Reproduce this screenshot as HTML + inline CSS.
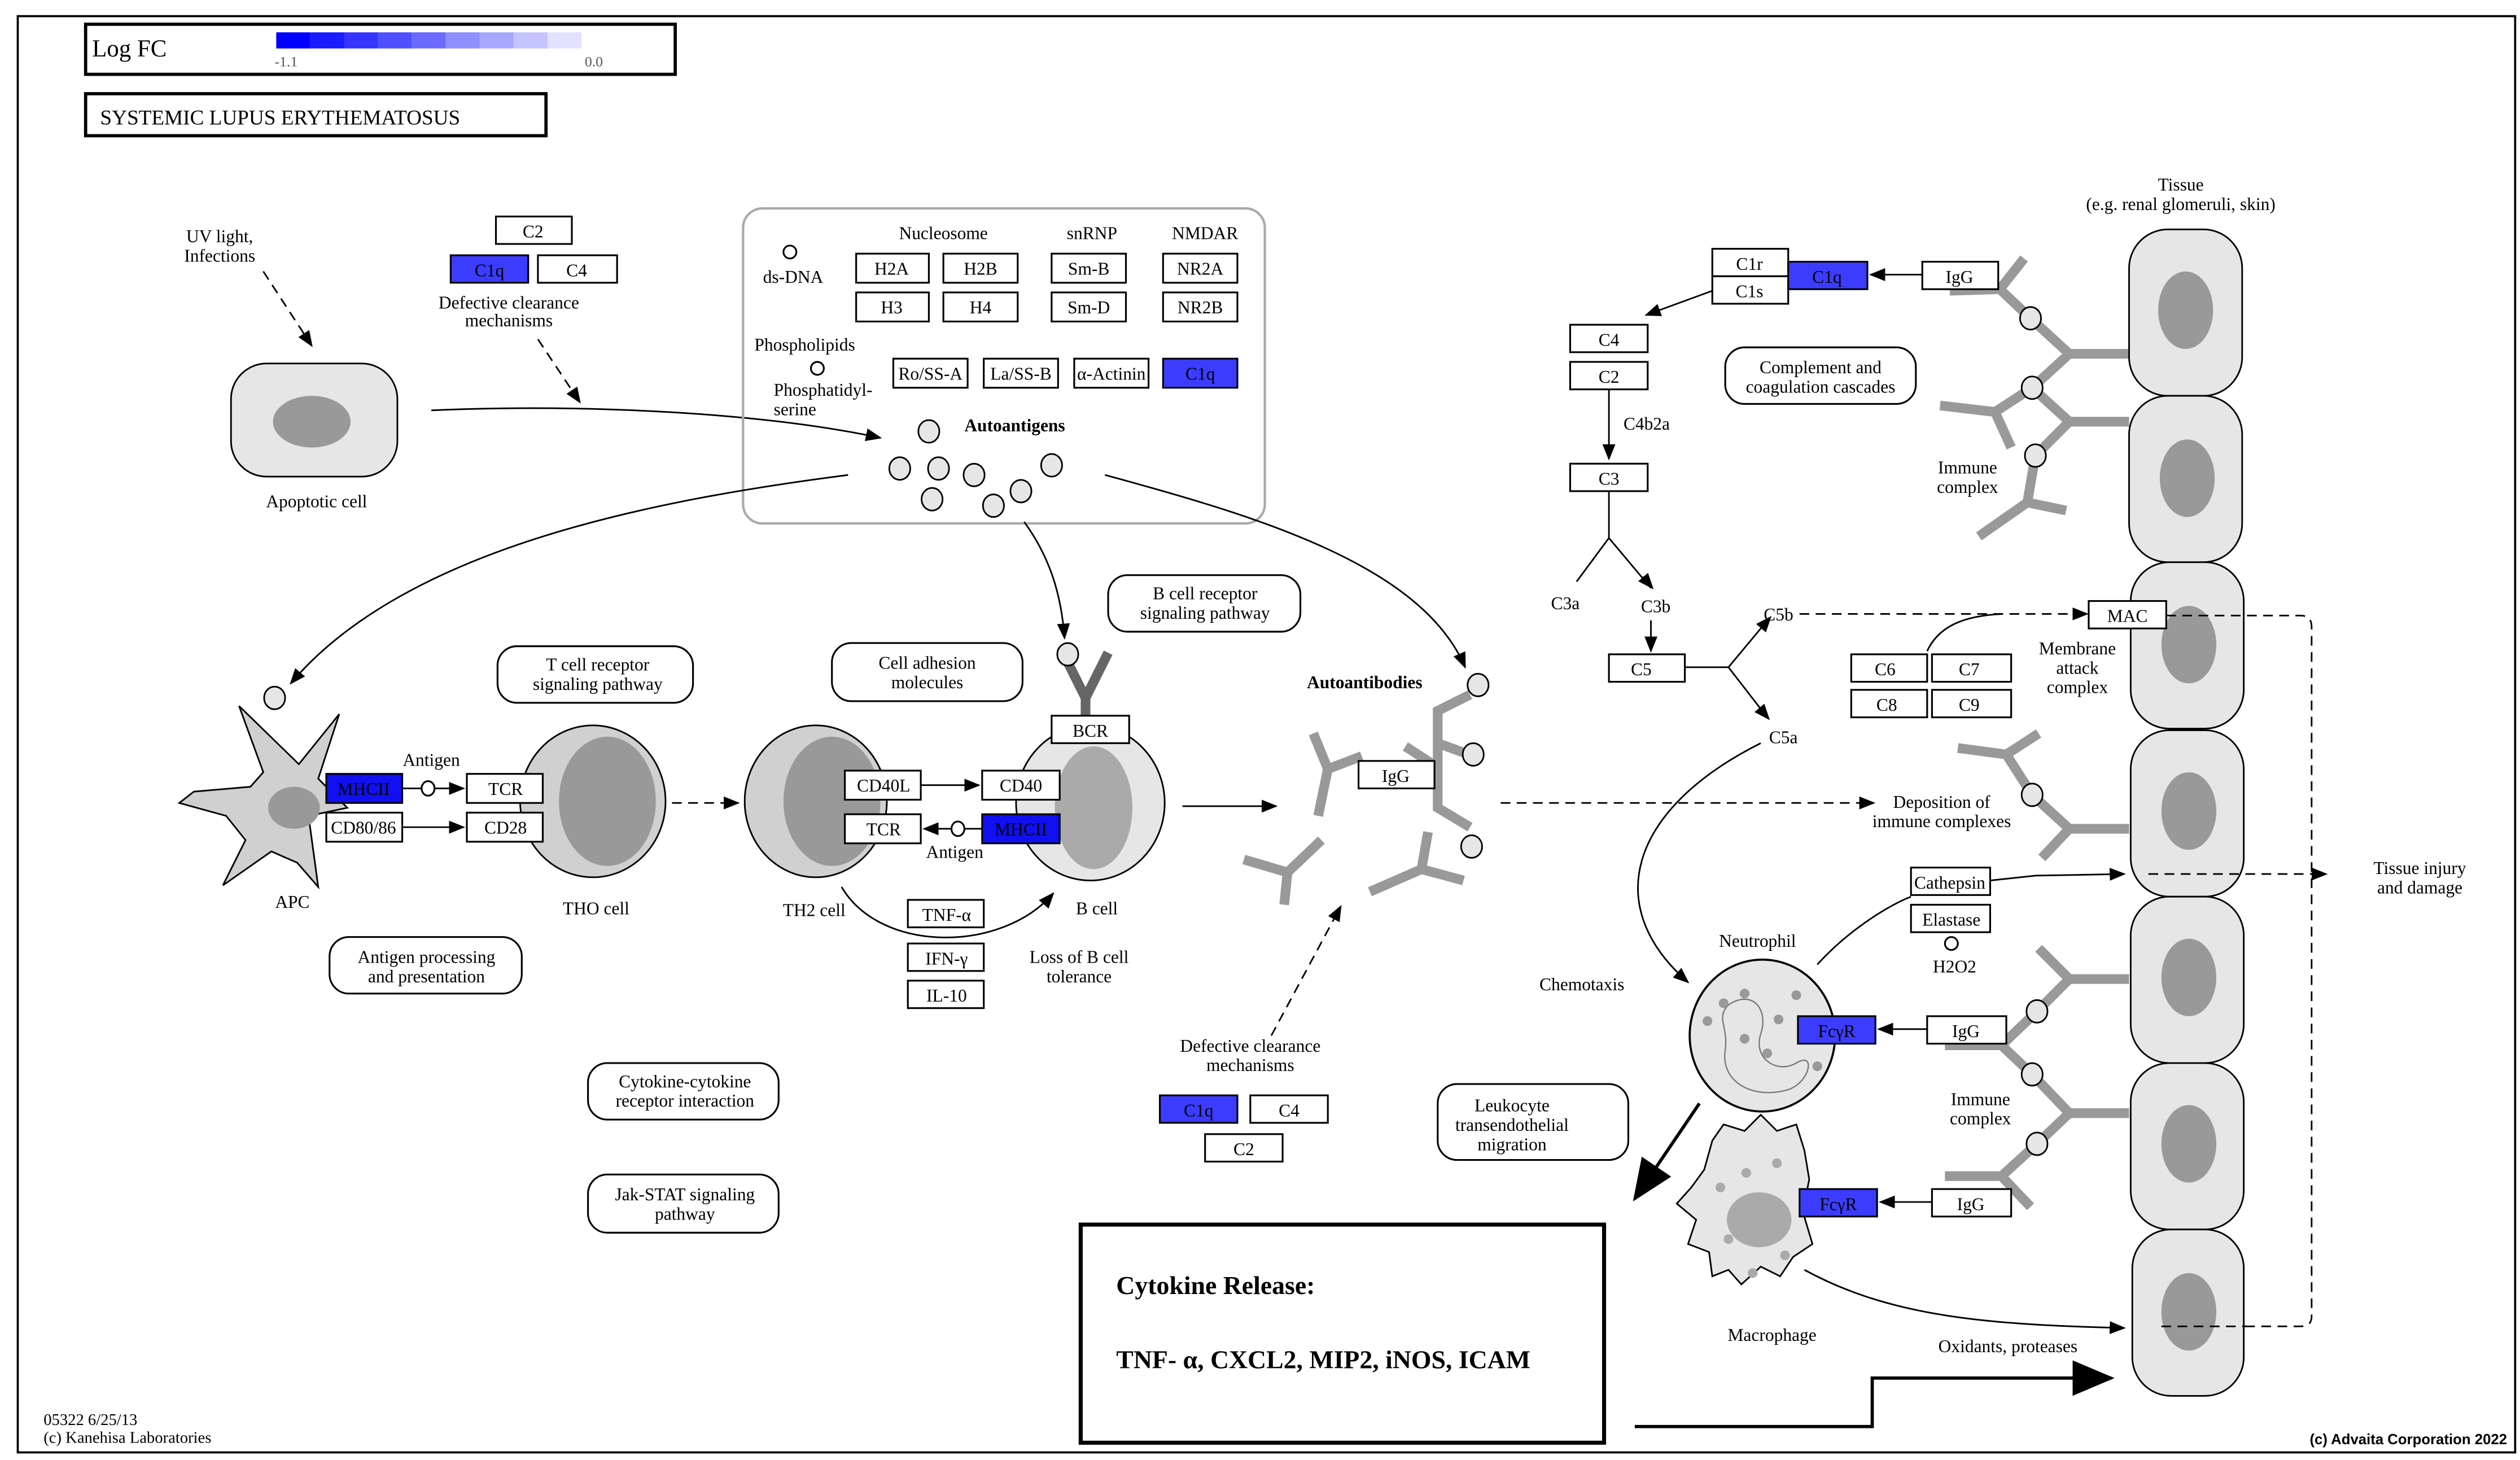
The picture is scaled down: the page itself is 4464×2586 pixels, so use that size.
<!DOCTYPE html>
<html><head><meta charset="utf-8"><style>
html,body{margin:0;padding:0;background:#fff;}
svg{display:block;}
text{font-family:"Liberation Serif",serif;font-size:11px;fill:#000;}
.b{fill:#fff;stroke:#000;stroke-width:1.1;}
.q{fill:#3c3cff;stroke:#000;stroke-width:1.1;}
.m{fill:#1010f0;stroke:#000;stroke-width:1.1;}
.l{fill:none;stroke:#000;stroke-width:1;}
.d{fill:none;stroke:#000;stroke-width:1;stroke-dasharray:6,4;}
.r{fill:#fff;stroke:#000;stroke-width:1.1;}
.y{fill:none;stroke:#999;stroke-width:6;}
.c{fill:#e6e6e6;stroke:#000;stroke-width:1;}
.ag{fill:#e6e6e6;stroke:#000;stroke-width:1;}
</style></head><body>
<svg width="4464" height="2586" viewBox="0 0 1560 903.7" xmlns="http://www.w3.org/2000/svg">
<defs>
<marker id="a" markerWidth="10" markerHeight="10" refX="9" refY="5" orient="auto" markerUnits="userSpaceOnUse"><path d="M0,1 L10,5 L0,9 z" fill="#000"/></marker>
<marker id="A" markerWidth="26" markerHeight="26" refX="24" refY="13" orient="auto" markerUnits="userSpaceOnUse"><path d="M0,2 L26,13 L0,24 z" fill="#000"/></marker>
</defs>
<rect x="0" y="0" width="1560" height="903.7" fill="#fff"/>
<rect x="11" y="10" width="1546" height="889" fill="none" stroke="#000" stroke-width="1.3"/>

<!-- legend -->
<rect x="53" y="15" width="365" height="31" fill="#fff" stroke="#000" stroke-width="2"/>
<text x="57" y="35" style="font-size:15px">Log FC</text>
<g>
<rect x="171" y="20" width="21" height="10" fill="#0000ff"/>
<rect x="192" y="20" width="21" height="10" fill="#1b1bff"/>
<rect x="213" y="20" width="21" height="10" fill="#3535ff"/>
<rect x="234" y="20" width="21" height="10" fill="#5050ff"/>
<rect x="255" y="20" width="21" height="10" fill="#6b6bff"/>
<rect x="276" y="20" width="21" height="10" fill="#8f8fff"/>
<rect x="297" y="20" width="21" height="10" fill="#a8a8ff"/>
<rect x="318" y="20" width="21" height="10" fill="#c4c4ff"/>
<rect x="339" y="20" width="21" height="10" fill="#e2e2ff"/>
</g>
<text x="170" y="41" style="font-size:9px;fill:#555">-1.1</text>
<text x="362" y="41" style="font-size:9px;fill:#555">0.0</text>
<rect x="53" y="58" width="285" height="26" fill="#fff" stroke="#000" stroke-width="2"/>
<text x="62" y="77" style="font-size:13px">SYSTEMIC LUPUS ERYTHEMATOSUS</text>

<!-- UV light -->
<text x="136" y="150" text-anchor="middle">UV light,</text>
<text x="136" y="162" text-anchor="middle">Infections</text>
<path class="d" d="M163,168 L193,214" marker-end="url(#a)"/>
<rect x="143" y="225" width="103" height="70" rx="22" class="c"/>
<ellipse cx="193" cy="261" rx="24" ry="16" fill="#999"/>
<text x="196" y="314" text-anchor="middle">Apoptotic cell</text>

<!-- top C2/C1q/C4 -->
<rect x="307" y="134" width="47" height="17" class="b"/><text x="330" y="147" text-anchor="middle">C2</text>
<rect x="279" y="158" width="48" height="17" class="q"/><text x="303" y="171" text-anchor="middle">C1q</text>
<rect x="333" y="158" width="49" height="17" class="b"/><text x="357" y="171" text-anchor="middle">C4</text>
<text x="315" y="191" text-anchor="middle">Defective clearance</text>
<text x="315" y="202" text-anchor="middle">mechanisms</text>
<path class="d" d="M333,210 L359,249" marker-end="url(#a)"/>
<path class="l" d="M267,254 C360,250 470,255 545,271" marker-end="url(#a)"/>

<!-- autoantigen box -->
<rect x="460" y="129" width="323" height="195" rx="12" fill="none" stroke="#aaa" stroke-width="1.5"/>
<text x="584" y="148" text-anchor="middle">Nucleosome</text>
<text x="676" y="148" text-anchor="middle">snRNP</text>
<text x="746" y="148" text-anchor="middle">NMDAR</text>
<circle cx="489" cy="156" r="4" class="r"/>
<text x="491" y="175" text-anchor="middle">ds-DNA</text>
<rect x="530" y="157" width="45" height="18" class="b"/><text x="552" y="170" text-anchor="middle">H2A</text>
<rect x="584" y="157" width="46" height="18" class="b"/><text x="607" y="170" text-anchor="middle">H2B</text>
<rect x="651" y="157" width="46" height="18" class="b"/><text x="674" y="170" text-anchor="middle">Sm-B</text>
<rect x="720" y="157" width="46" height="18" class="b"/><text x="743" y="170" text-anchor="middle">NR2A</text>
<rect x="530" y="181" width="45" height="18" class="b"/><text x="552" y="194" text-anchor="middle">H3</text>
<rect x="584" y="181" width="46" height="18" class="b"/><text x="607" y="194" text-anchor="middle">H4</text>
<rect x="651" y="181" width="46" height="18" class="b"/><text x="674" y="194" text-anchor="middle">Sm-D</text>
<rect x="720" y="181" width="46" height="18" class="b"/><text x="743" y="194" text-anchor="middle">NR2B</text>
<text x="467" y="217">Phospholipids</text>
<circle cx="506" cy="228" r="4" class="r"/>
<text x="479" y="245">Phosphatidyl-</text>
<text x="479" y="257">serine</text>
<rect x="553" y="222" width="46" height="18" class="b"/><text x="576" y="235" text-anchor="middle">Ro/SS-A</text>
<rect x="609" y="222" width="46" height="18" class="b"/><text x="632" y="235" text-anchor="middle">La/SS-B</text>
<rect x="665" y="222" width="46" height="18" class="b"/><text x="688" y="235" text-anchor="middle">α-Actinin</text>
<rect x="720" y="222" width="46" height="18" class="q"/><text x="743" y="235" text-anchor="middle">C1q</text>
<text x="597" y="267" style="font-weight:bold">Autoantigens</text>
<g class="ag">
<ellipse cx="575" cy="267" rx="6.5" ry="7"/>
<ellipse cx="557" cy="290" rx="6.5" ry="7"/>
<ellipse cx="581" cy="290" rx="6.5" ry="7"/>
<ellipse cx="603" cy="294" rx="6.5" ry="7"/>
<ellipse cx="577" cy="309" rx="6.5" ry="7"/>
<ellipse cx="615" cy="313" rx="6.5" ry="7"/>
<ellipse cx="632" cy="304" rx="6.5" ry="7"/>
<ellipse cx="651" cy="288" rx="6.5" ry="7"/>
</g>
<path class="l" d="M525,294 C400,310 250,340 180,423" marker-end="url(#a)"/>
<path class="l" d="M684,294 C780,320 880,350 907,413" marker-end="url(#a)"/>
<path class="l" d="M634,323 C650,345 657,368 659,395" marker-end="url(#a)"/>

<!-- pathway boxes -->
<rect x="308" y="400" width="121" height="35" rx="12" class="r"/>
<text x="370" y="415" text-anchor="middle">T cell receptor</text>
<text x="370" y="427" text-anchor="middle">signaling pathway</text>
<rect x="515" y="398" width="118" height="36" rx="12" class="r"/>
<text x="574" y="414" text-anchor="middle">Cell adhesion</text>
<text x="574" y="426" text-anchor="middle">molecules</text>
<rect x="686" y="356" width="119" height="35" rx="12" class="r"/>
<text x="746" y="371" text-anchor="middle">B cell receptor</text>
<text x="746" y="383" text-anchor="middle">signaling pathway</text>
<rect x="204" y="580" width="119" height="35" rx="12" class="r"/>
<text x="264" y="596" text-anchor="middle">Antigen processing</text>
<text x="264" y="608" text-anchor="middle">and presentation</text>
<rect x="364" y="658" width="118" height="35" rx="12" class="r"/>
<text x="424" y="673" text-anchor="middle">Cytokine-cytokine</text>
<text x="424" y="685" text-anchor="middle">receptor interaction</text>
<rect x="364" y="727" width="118" height="36" rx="12" class="r"/>
<text x="424" y="743" text-anchor="middle">Jak-STAT signaling</text>
<text x="424" y="755" text-anchor="middle">pathway</text>
<rect x="1068" y="215" width="118" height="35" rx="12" class="r"/>
<text x="1127" y="231" text-anchor="middle">Complement and</text>
<text x="1127" y="243" text-anchor="middle">coagulation cascades</text>
<rect x="890" y="671" width="118" height="47" rx="12" class="r"/>
<text x="936" y="688" text-anchor="middle">Leukocyte</text>
<text x="936" y="700" text-anchor="middle">transendothelial</text>
<text x="936" y="712" text-anchor="middle">migration</text>

<!-- APC -->
<ellipse cx="170" cy="432" rx="6.5" ry="7" class="ag"/>
<path d="M148,437 L163,478 L155,487 L120,490 L111,497 L140,505 L152,520 L138,548 L168,527 L184,534 L197,549 L191,505 L215,500 L197,482 L210,442 L185,473 Z" fill="#d0d0d0" stroke="#000" stroke-width="1"/>
<ellipse cx="182" cy="500" rx="16" ry="13" fill="#999"/>
<text x="181" y="562" text-anchor="middle">APC</text>
<text x="267" y="474" text-anchor="middle">Antigen</text>
<rect x="202" y="479" width="47" height="18" class="m"/><text x="225" y="492" text-anchor="middle">MHCII</text>
<rect x="202" y="503" width="47" height="18" class="b"/><text x="225" y="516" text-anchor="middle">CD80/86</text>
<path class="l" d="M249,488 L261,488"/><ellipse cx="265" cy="488" rx="4" ry="4.5" class="r"/>
<path class="l" d="M269,488 L287,488" marker-end="url(#a)"/>
<path class="l" d="M249,512 L287,512" marker-end="url(#a)"/>
<!-- TH0 -->
<ellipse cx="367" cy="496" rx="45" ry="47" fill="#d0d0d0" stroke="#000"/>
<ellipse cx="376" cy="496" rx="30" ry="40" fill="#999"/>
<rect x="289" y="479" width="47" height="18" class="b"/><text x="313" y="492" text-anchor="middle">TCR</text>
<rect x="289" y="503" width="47" height="18" class="b"/><text x="313" y="516" text-anchor="middle">CD28</text>
<text x="369" y="566" text-anchor="middle">THO cell</text>
<path class="d" d="M416,497 L457,497" marker-end="url(#a)"/>
<!-- TH2 -->
<ellipse cx="505" cy="496" rx="44" ry="47" fill="#d0d0d0" stroke="#000"/>
<ellipse cx="515" cy="496" rx="30" ry="40" fill="#999"/>
<text x="504" y="567" text-anchor="middle">TH2 cell</text>
<!-- B cell -->
<ellipse cx="675" cy="497" rx="46" ry="48" fill="#e6e6e6" stroke="#000"/>
<ellipse cx="677" cy="500" rx="24" ry="38" fill="#aaa"/>
<path d="M661,410 L672,432 L686,404" fill="none" stroke="#666" stroke-width="6"/>
<path d="M672,430 L672,445" stroke="#666" stroke-width="6"/>
<ellipse cx="661" cy="405" rx="6.5" ry="7" class="ag"/>
<rect x="651" y="443" width="48" height="17" class="b"/><text x="675" y="456" text-anchor="middle">BCR</text>
<rect x="523" y="477" width="47" height="18" class="b"/><text x="547" y="490" text-anchor="middle">CD40L</text>
<rect x="608" y="477" width="48" height="18" class="b"/><text x="632" y="490" text-anchor="middle">CD40</text>
<rect x="523" y="504" width="47" height="18" class="b"/><text x="547" y="517" text-anchor="middle">TCR</text>
<rect x="608" y="504" width="48" height="18" class="m"/><text x="632" y="517" text-anchor="middle">MHCII</text>
<path class="l" d="M570,486 L606,486" marker-end="url(#a)"/>
<path class="l" d="M608,513 L597,513"/><ellipse cx="593" cy="513" rx="4" ry="4.5" class="r"/>
<path class="l" d="M589,513 L572,513" marker-end="url(#a)"/>
<text x="591" y="531" text-anchor="middle">Antigen</text>
<text x="679" y="566" text-anchor="middle">B cell</text>
<path class="l" d="M521,549 C545,590 620,590 652,553" marker-end="url(#a)"/>
<rect x="562" y="557" width="47" height="17" class="b"/><text x="586" y="570" text-anchor="middle">TNF-α</text>
<rect x="562" y="584" width="47" height="17" class="b"/><text x="586" y="597" text-anchor="middle">IFN-γ</text>
<rect x="562" y="607" width="47" height="17" class="b"/><text x="586" y="620" text-anchor="middle">IL-10</text>
<text x="668" y="596" text-anchor="middle">Loss of B cell</text>
<text x="668" y="608" text-anchor="middle">tolerance</text>
<path class="l" d="M732,499 L790,499" marker-end="url(#a)"/>

<!-- Autoantibodies -->
<text x="809" y="426" style="font-weight:bold">Autoantibodies</text>
<g class="y">
<path d="M813,454 L822,476 L816,505 M822,476 L843,468"/>
<path d="M910,430 L890,440 L890,500 L910,512 M890,460 L912,468 M890,475 L870,462"/>
<path d="M770,532 L797,540 L818,520 M797,540 L795,560"/>
<path d="M848,552 L880,538 L884,515 M880,538 L906,545"/>
</g>
<ellipse cx="915" cy="424" rx="6.5" ry="7" class="ag"/>
<ellipse cx="912" cy="467" rx="6.5" ry="7" class="ag"/>
<ellipse cx="911" cy="524" rx="6.5" ry="7" class="ag"/>
<rect x="841" y="471" width="47" height="17" class="b"/><text x="864" y="484" text-anchor="middle">IgG</text>
<path class="d" d="M929,497 L1160,497" marker-end="url(#a)"/>
<text x="1202" y="500" text-anchor="middle">Deposition of</text>
<text x="1202" y="512" text-anchor="middle">immune complexes</text>

<text x="774" y="651" text-anchor="middle">Defective clearance</text>
<text x="774" y="663" text-anchor="middle">mechanisms</text>
<path class="d" d="M787,641 L830,561" marker-end="url(#a)"/>
<rect x="718" y="678" width="48" height="17" class="q"/><text x="742" y="691" text-anchor="middle">C1q</text>
<rect x="774" y="678" width="48" height="17" class="b"/><text x="798" y="691" text-anchor="middle">C4</text>
<rect x="746" y="702" width="48" height="17" class="b"/><text x="770" y="715" text-anchor="middle">C2</text>

<!-- complement cascade -->
<rect x="1060" y="154" width="47" height="17" class="b"/><text x="1083" y="167" text-anchor="middle">C1r</text>
<rect x="1060" y="171" width="47" height="17" class="b"/><text x="1083" y="184" text-anchor="middle">C1s</text>
<rect x="1107" y="162" width="49" height="17" class="q"/><text x="1131" y="175" text-anchor="middle">C1q</text>
<path class="l" d="M1190,170 L1158,170" marker-end="url(#a)"/>
<path class="l" d="M1060,180 L1019,195" marker-end="url(#a)"/>
<rect x="972" y="201" width="48" height="17" class="b"/><text x="996" y="214" text-anchor="middle">C4</text>
<rect x="972" y="224" width="48" height="17" class="b"/><text x="996" y="237" text-anchor="middle">C2</text>
<path class="l" d="M996,241 L996,284" marker-end="url(#a)"/>
<text x="1005" y="266">C4b2a</text>
<rect x="972" y="287" width="48" height="17" class="b"/><text x="996" y="300" text-anchor="middle">C3</text>
<path class="l" d="M996,304 L996,333 L976,360 M996,333 L1022,364"/>
<path class="l" d="M1017,357 L1023,364" marker-end="url(#a)"/>
<text x="969" y="377" text-anchor="middle">C3a</text>
<text x="1025" y="379" text-anchor="middle">C3b</text>
<path class="l" d="M1022,384 L1022,403" marker-end="url(#a)"/>
<rect x="996" y="405" width="47" height="17" class="b"/><text x="1016" y="418" text-anchor="middle">C5</text>
<path class="l" d="M1043,413 L1070,413 L1095,383 M1070,413 L1094,444"/>
<path class="l" d="M1090,389 L1096,382" marker-end="url(#a)"/>
<path class="l" d="M1089,438 L1095,445" marker-end="url(#a)"/>
<text x="1101" y="384" text-anchor="middle">C5b</text>
<text x="1104" y="460" text-anchor="middle">C5a</text>
<path class="d" d="M1114,380 L1292,380" marker-end="url(#a)"/>
<path class="l" d="M1193,403 C1200,388 1215,381 1240,380"/>
<rect x="1146" y="405" width="47" height="17" class="b"/><text x="1167" y="418" text-anchor="middle">C6</text>
<rect x="1196" y="405" width="49" height="17" class="b"/><text x="1219" y="418" text-anchor="middle">C7</text>
<rect x="1146" y="427" width="47" height="17" class="b"/><text x="1168" y="440" text-anchor="middle">C8</text>
<rect x="1196" y="427" width="49" height="17" class="b"/><text x="1219" y="440" text-anchor="middle">C9</text>
<text x="1286" y="405" text-anchor="middle">Membrane</text>
<text x="1286" y="417" text-anchor="middle">attack</text>
<text x="1286" y="429" text-anchor="middle">complex</text>
<path class="d" d="M1341,381 L1424,381 Q1431,381 1431,388 L1431,815 Q1431,821 1424,821 L1338,821"/>
<path class="d" d="M1330,541 L1440,541" marker-end="url(#a)"/>
<text x="1498" y="541" text-anchor="middle">Tissue injury</text>
<text x="1498" y="553" text-anchor="middle">and damage</text>

<!-- chemotaxis -->
<path class="l" d="M1090,460 C1010,500 990,560 1045,608" marker-end="url(#a)"/>
<text x="953" y="613">Chemotaxis</text>
<text x="1088" y="586" text-anchor="middle">Neutrophil</text>
<ellipse cx="1091" cy="641" rx="45" ry="47" fill="#e6e6e6" stroke="#000" stroke-width="1.3"/>
<path d="M1070,622 C1085,612 1095,625 1090,640 C1085,655 1100,665 1112,658 C1125,650 1120,672 1105,675 C1085,680 1065,670 1068,650 C1070,635 1062,630 1070,622 Z" fill="none" stroke="#777" stroke-width="0.8"/>
<g fill="#999"><circle cx="1067" cy="621" r="3"/><circle cx="1080" cy="615" r="3"/><circle cx="1057" cy="632" r="3"/><circle cx="1080" cy="643" r="3"/><circle cx="1101" cy="631" r="3"/><circle cx="1112" cy="616" r="3"/><circle cx="1125" cy="660" r="3"/><circle cx="1094" cy="652" r="3"/></g>
<rect x="1113" y="629" width="48" height="17" class="q"/><text x="1137" y="642" text-anchor="middle">FcγR</text>
<path class="l" d="M1193,637 L1163,637" marker-end="url(#a)"/>
<path class="l" d="M1125,597 C1145,575 1170,560 1183,555"/>
<rect x="1183" y="537" width="49" height="17" class="b"/><text x="1207" y="550" text-anchor="middle">Cathepsin</text>
<rect x="1183" y="560" width="49" height="17" class="b"/><text x="1208" y="573" text-anchor="middle">Elastase</text>
<circle cx="1208" cy="584" r="4" class="r"/>
<text x="1210" y="602" text-anchor="middle">H2O2</text>
<path class="l" d="M1232,545 L1260,542 L1315,541" marker-end="url(#a)"/>
<path d="M1055,724 L1060,706 L1067,696 L1080,700 L1090,690 L1100,700 L1112,696 L1117,712 L1120,730 L1116,750 L1122,770 L1110,778 L1102,790 L1090,784 L1078,795 L1070,786 L1060,790 L1058,775 L1045,770 L1050,755 L1038,745 L1047,735 Z" fill="#e6e6e6" stroke="#000" stroke-width="1"/>
<ellipse cx="1089" cy="755" rx="20" ry="17" fill="#aaa"/>
<g fill="#aaa"><circle cx="1065" cy="735" r="3"/><circle cx="1081" cy="726" r="3"/><circle cx="1070" cy="767" r="3"/><circle cx="1105" cy="777" r="3"/><circle cx="1085" cy="788" r="3"/><circle cx="1100" cy="720" r="3"/></g>
<rect x="1114" y="736" width="48" height="17" class="q"/><text x="1138" y="749" text-anchor="middle">FcγR</text>
<path class="l" d="M1196,744 L1164,744" marker-end="url(#a)"/>
<text x="1097" y="830" text-anchor="middle">Macrophage</text>
<path class="l" d="M1117,786 C1170,815 1230,820 1315,822" marker-end="url(#a)"/>
<text x="1243" y="837" text-anchor="middle">Oxidants, proteases</text>

<!-- immune complexes on tissue -->
<g class="y">
<path d="M1318,219 L1281,219 L1257,197 L1238,179 L1253,160 M1238,179 L1207,180"/>
<path d="M1281,219 L1258,240"/>
<path d="M1318,261 L1281,261 L1258,240 L1235,255 L1201,251 M1235,255 L1245,277"/>
<path d="M1281,261 L1260,282 L1255,311 L1279,316 M1255,311 L1225,332"/>
<path d="M1318,513 L1281,513 L1264,531 M1281,513 L1258,492 L1242,467 L1212,463 M1242,467 L1262,454"/>
<path d="M1318,606 L1281,606 L1262,587 M1281,606 L1261,626 L1239,647 L1204,647 M1239,647 L1258,665"/>
<path d="M1318,689 L1281,689 L1258,665 M1281,689 L1261,708 L1239,728 L1204,728 M1239,728 L1257,747"/>
</g>
<g class="ag">
<ellipse cx="1257" cy="197" rx="6.5" ry="7"/>
<ellipse cx="1258" cy="240" rx="6.5" ry="7"/>
<ellipse cx="1260" cy="282" rx="6.5" ry="7"/>
<ellipse cx="1258" cy="492" rx="6.5" ry="7"/>
<ellipse cx="1261" cy="626" rx="6.5" ry="7"/>
<ellipse cx="1258" cy="665" rx="6.5" ry="7"/>
<ellipse cx="1261" cy="708" rx="6.5" ry="7"/>
</g>
<rect x="1190" y="162" width="47" height="17" class="b"/><text x="1213" y="175" text-anchor="middle">IgG</text>
<rect x="1193" y="629" width="49" height="17" class="b"/><text x="1217" y="642" text-anchor="middle">IgG</text>
<rect x="1196" y="736" width="49" height="17" class="b"/><text x="1220" y="749" text-anchor="middle">IgG</text>
<text x="1218" y="293" text-anchor="middle">Immune</text>
<text x="1218" y="305" text-anchor="middle">complex</text>
<text x="1226" y="684" text-anchor="middle">Immune</text>
<text x="1226" y="696" text-anchor="middle">complex</text>

<!-- tissue column -->
<text x="1350" y="118" text-anchor="middle">Tissue</text>
<text x="1350" y="130" text-anchor="middle">(e.g. renal glomeruli, skin)</text>
<g>
<rect x="1318" y="142" width="70" height="103" rx="24" class="c"/>
<rect x="1318" y="245" width="70" height="103" rx="24" class="c"/>
<rect x="1319" y="348" width="70" height="103" rx="24" class="c"/>
<rect x="1319" y="452" width="70" height="103" rx="24" class="c"/>
<rect x="1319" y="555" width="70" height="103" rx="24" class="c"/>
<rect x="1319" y="658" width="70" height="103" rx="24" class="c"/>
<rect x="1320" y="761" width="69" height="103" rx="24" class="c"/>
</g>
<g fill="#999">
<ellipse cx="1353" cy="192" rx="17" ry="24"/>
<ellipse cx="1354" cy="296" rx="17" ry="24"/>
<ellipse cx="1355" cy="399" rx="17" ry="24"/>
<ellipse cx="1355" cy="502" rx="17" ry="24"/>
<ellipse cx="1355" cy="605" rx="17" ry="24"/>
<ellipse cx="1355" cy="708" rx="17" ry="24"/>
<ellipse cx="1355" cy="812" rx="17" ry="24"/>
</g>
<path class="d" d="M1341,381 L1390,381"/>
<path class="d" d="M1330,541 L1390,541"/>
<path class="d" d="M1338,821 L1390,821"/>
<rect x="1293" y="372" width="48" height="17" class="b"/><text x="1317" y="385" text-anchor="middle">MAC</text>

<!-- cytokine release -->
<rect x="669" y="758" width="324" height="135" fill="#fff" stroke="#000" stroke-width="2.5"/>
<text x="691" y="801" style="font-size:16px;font-weight:bold">Cytokine Release:</text>
<text x="691" y="847" style="font-size:16px;font-weight:bold">TNF- α, CXCL2, MIP2, iNOS, ICAM</text>
<path d="M1052,683 L1012,742" stroke="#000" stroke-width="2" fill="none" marker-end="url(#A)"/>
<path d="M1012,883 L1159,883 L1159,853 L1307,853" stroke="#000" stroke-width="2" fill="none" marker-end="url(#A)"/>

<text x="27" y="882" style="font-size:10px">05322 6/25/13</text>
<text x="27" y="893" style="font-size:10px">(c) Kanehisa Laboratories</text>
<text x="1552" y="894" text-anchor="end" style="font-family:'Liberation Sans',sans-serif;font-size:9px;font-weight:bold">(c) Advaita Corporation 2022</text>
</svg>
</body></html>
